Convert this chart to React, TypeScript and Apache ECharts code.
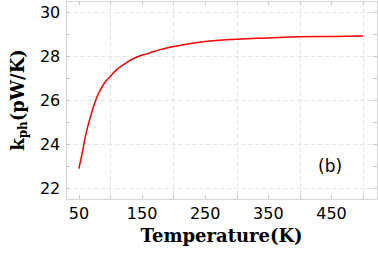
import React, { useEffect, useRef } from "react";
import * as echarts from "echarts";

const temperature = [50, 55, 60, 65, 70, 75, 80, 90, 100, 110, 120, 140, 160, 180, 200, 250, 300, 350, 400, 450, 500];
const kph = [22.88, 23.55, 24.3, 24.9, 25.4, 25.85, 26.23, 26.75, 27.08, 27.38, 27.6, 27.93, 28.12, 28.3, 28.43, 28.66, 28.76, 28.82, 28.87, 28.89, 28.91];

const xLabelValues = [50, 150, 250, 350, 450];
const xTickValues = [50, 100, 150, 200, 250, 300, 350, 400, 450, 500];
const xGridValues = [100, 200, 300, 400, 500];
const yLabelValues = [22, 24, 26, 28, 30];
const yTickValues = [22, 23, 24, 25, 26, 27, 28, 29, 30];
const yGridValues = [22, 24, 26, 28, 30];

const X_MIN = 30;
const X_MAX = 522;
const Y_MIN = 21.5;
const Y_MAX = 30.5;

const BOX = "#d6d6d6";
const TICK = "#c8c8c8";
const GRID = "#e3e3e3";
const SANS = "DejaVu Sans";
const SERIF = "DejaVu Serif";

export default function App() {
  const ref = useRef<HTMLDivElement>(null);
  useEffect(() => {
    if (!ref.current) return;
    const chart = echarts.init(ref.current, undefined, { renderer: "svg" });
    const boxAxis = (position: string, tickVals: number[], labelVals: number[] | null, min: number, max: number) => ({
      type: "value",
      position,
      min,
      max,
      axisLine: { show: true, lineStyle: { color: BOX, width: 1 } },
      axisTick: { show: true, inside: true, length: 4, customValues: tickVals, lineStyle: { color: TICK } },
      axisLabel: labelVals
        ? { show: true, customValues: labelVals, color: "#000", fontFamily: SANS, fontSize: 16, margin: 6 }
        : { show: false },
      splitLine: { show: false },
    });
    const gridAxis = (position: string, vals: number[], min: number, max: number) => ({
      type: "value",
      position,
      min,
      max,
      axisLine: { show: false },
      axisTick: { show: false, customValues: vals },
      axisLabel: { show: false },
      splitLine: { show: true, lineStyle: { color: GRID, type: [4, 3], width: 1 } },
    });
    const xb: any = boxAxis("bottom", xTickValues, xLabelValues, X_MIN, X_MAX);
    xb.name = "Temperature(K)";
    xb.nameLocation = "middle";
    xb.nameGap = 27;
    xb.nameTextStyle = { fontFamily: SERIF, fontWeight: "bold", fontSize: 18, color: "#000" };
    const yl: any = boxAxis("left", yTickValues, yLabelValues, Y_MIN, Y_MAX);
    yl.name = "k{s|ph}(pW/K)";
    yl.nameLocation = "middle";
    yl.nameGap = 36;
    yl.nameRotate = 90;
    yl.nameTextStyle = {
      fontFamily: SERIF,
      fontWeight: "bold",
      fontSize: 18,
      color: "#000",
      rich: {
        s: { fontFamily: SERIF, fontWeight: "bold", fontSize: 12, color: "#000", verticalAlign: "bottom", padding: [0, 0, -3, 0] },
      },
    };
    chart.setOption({
      animation: false,
      grid: { left: 57, right: 1, top: 1, bottom: 54, containLabel: false },
      xAxis: [
        gridAxis("bottom", xGridValues, X_MIN, X_MAX),
        xb,
        boxAxis("top", xTickValues, null, X_MIN, X_MAX),
      ],
      yAxis: [
        gridAxis("left", yGridValues, Y_MIN, Y_MAX),
        yl,
        boxAxis("right", yTickValues, null, Y_MIN, Y_MAX),
      ],
      graphic: [
        {
          type: "text",
          left: 318,
          top: 157,
          style: { text: "(b)", fontFamily: SANS, fontSize: 17, fill: "#000" },
        },
      ],
      series: [
        {
          type: "line",
          xAxisIndex: 1,
          yAxisIndex: 1,
          data: temperature.map((t, i) => [t, kph[i]]),
          smooth: true,
          showSymbol: false,
          lineStyle: { color: "#ff0000", width: 1.5 },
        },
      ],
    });
    return () => chart.dispose();
  }, []);
  return <div ref={ref} style={{ position: "absolute", left: 0, top: 0, width: 378, height: 253 }} />;
}
